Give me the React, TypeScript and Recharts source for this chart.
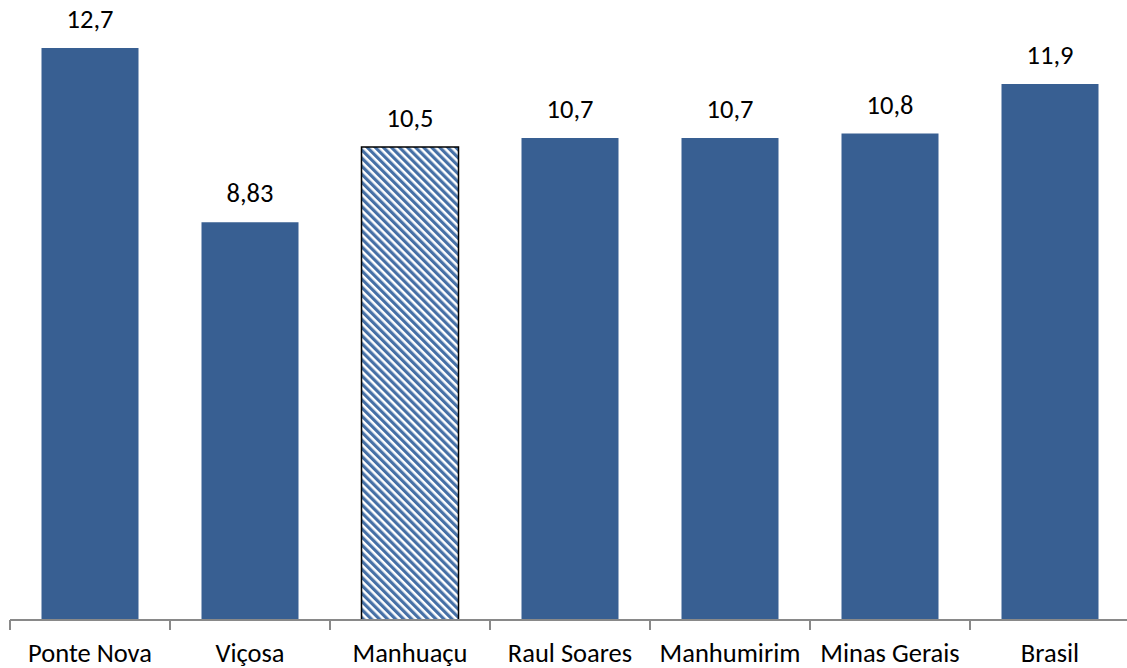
import React from 'react';
import { BarChart, Bar, XAxis, YAxis, Cell, LabelList } from 'recharts';

const categories = ['Ponte Nova', 'Viçosa', 'Manhuaçu', 'Raul Soares', 'Manhumirim', 'Minas Gerais', 'Brasil'];
const values = [12.7, 8.83, 10.5, 10.7, 10.7, 10.8, 11.9];
const valueLabels = ['12,7', '8,83', '10,5', '10,7', '10,7', '10,8', '11,9'];
const highlighted = ['Manhuaçu'];

const data = categories.map((name, i) => ({ name, value: values[i], label: valueLabels[i] }));

const CHART_W = 1130;
const CHART_H = 668;
const MARGIN = { top: 48, right: 0, bottom: 0, left: 10 };
const BAND = (CHART_W - MARGIN.left - MARGIN.right) / categories.length;
const FONT = 'Carlito, Calibri, "Open Sans", "Liberation Sans", sans-serif';
const BLUE = '#385F92';

const Tick = (props: any) => {
  const { x, y, payload, index } = props;
  const half = BAND / 2;
  return (
    <g>
      <line x1={x - half} y1={y - 8} x2={x - half} y2={y + 2} stroke="#898989" strokeWidth={2} />
      {index === categories.length - 1 ? (
        <line x1={x + half} y1={y - 8} x2={x + half} y2={y + 2} stroke="#898989" strokeWidth={2} />
      ) : null}
      <text x={x} y={y + 34} textAnchor="middle" fontSize={26.5} fontFamily={FONT} fill="#000">
        {payload.value}
      </text>
    </g>
  );
};

const Label = (props: any) => {
  const { x, y, width, index } = props;
  return (
    <text x={x + width / 2} y={y - 20} textAnchor="middle" fontSize={26.5} fontFamily={FONT} fill="#000">
      {valueLabels[index]}
    </text>
  );
};

export default function App() {
  return (
    <div style={{ position: 'absolute', left: 0, top: 0, width: 1127, height: 668, overflow: 'hidden', background: '#fff' }}>
      <BarChart width={CHART_W} height={CHART_H} data={data} margin={MARGIN} barCategoryGap={31.5}>
        <defs>
          <pattern id="hatch" patternUnits="userSpaceOnUse" width={5.7} height={5.7} patternTransform="rotate(-45)">
            <rect x={0} y={0} width={5.7} height={5.7} fill="#ffffff" />
            <rect x={0} y={0} width={3.2} height={5.7} fill="#4670A6" />
          </pattern>
        </defs>
        <YAxis hide domain={[0, 12.7]} allowDataOverflow />
        <XAxis
          dataKey="name"
          height={48}
          axisLine={{ stroke: '#898989', strokeWidth: 2 }}
          tickLine={false}
          tick={<Tick />}
          interval={0}
        />
        <Bar dataKey="value" isAnimationActive={false}>
          {data.map((d) =>
            highlighted.includes(d.name) ? (
              <Cell key={d.name} fill="url(#hatch)" stroke="#000" strokeWidth={1.5} />
            ) : (
              <Cell key={d.name} fill={BLUE} />
            )
          )}
          <LabelList dataKey="label" content={<Label />} />
        </Bar>
      </BarChart>
    </div>
  );
}
